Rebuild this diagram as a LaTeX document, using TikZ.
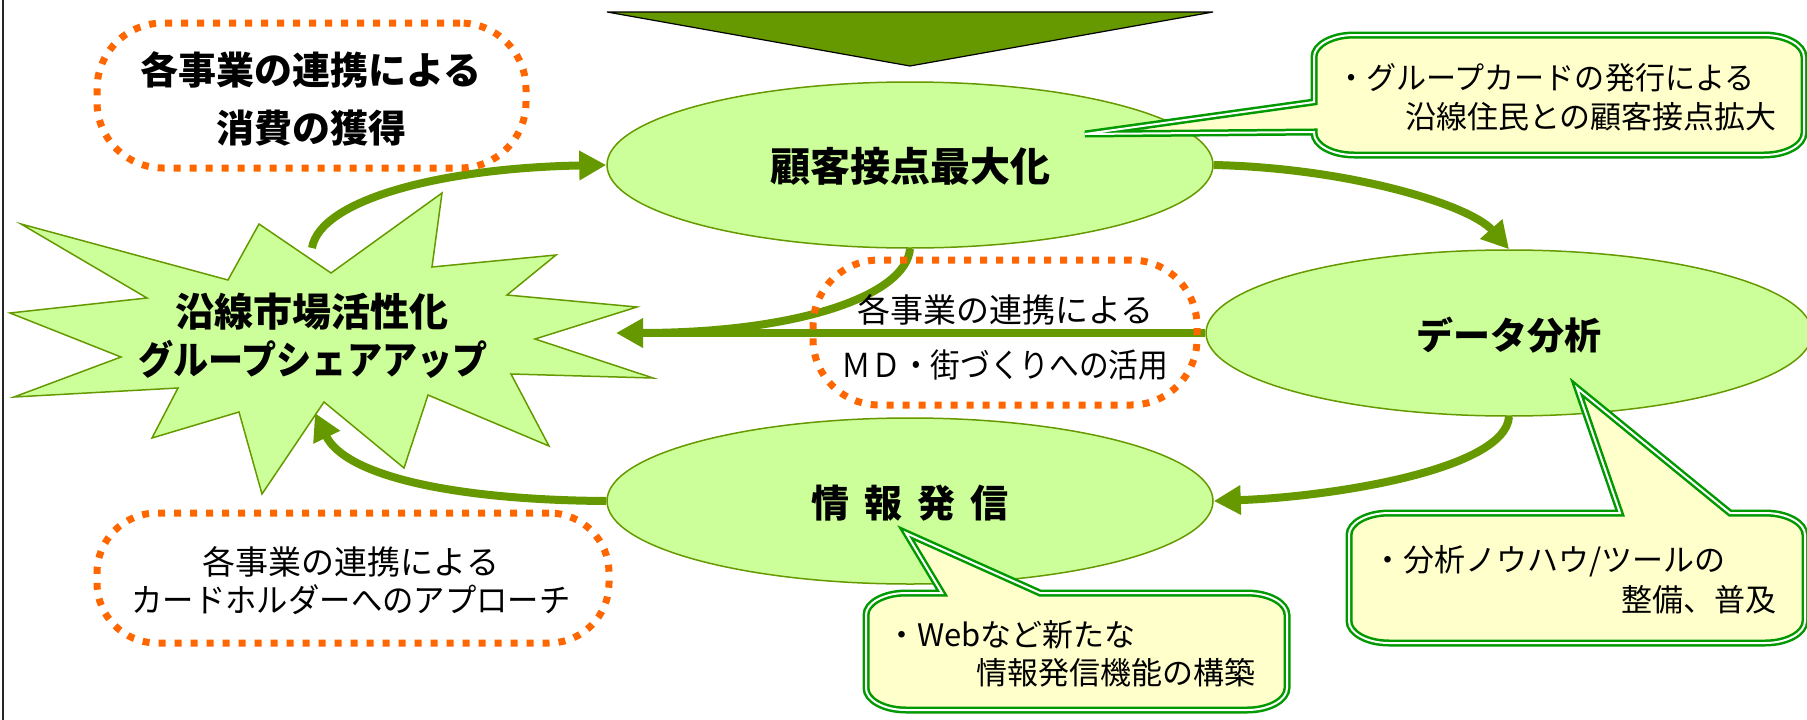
\documentclass[tikz,border=0pt]{standalone}
\usepackage{fontspec}
\newfontfamily\jp{Noto Sans CJK JP}
\usetikzlibrary{arrows.meta,shapes.geometric}
\definecolor{leaf}{HTML}{CCFF99}
\definecolor{olivec}{HTML}{669900}
\definecolor{orng}{HTML}{FF6600}
\definecolor{cgreen}{HTML}{009900}
\definecolor{cream}{HTML}{FFFFCC}
\begin{document}
\begin{tikzpicture}[x=1pt,y=-1pt,
  ell/.style={ellipse, draw=olivec, line width=1.5pt, fill=leaf, minimum width=606pt, minimum height=166pt, inner sep=0pt, text height=36pt, text depth=3pt},
  flow/.style={draw=olivec, line width=8pt, -{Triangle[length=27pt,width=28pt]}},
  flowplain/.style={draw=olivec, line width=8pt},
  dotbox/.style={draw=orng, line width=7pt, dash pattern=on 7pt off 9pt, rounded corners=66pt, inner sep=0pt},
  bigtxt/.style={font=\jp\bfseries\fontsize{38}{38}\selectfont, inner sep=0pt, text height=32pt, text depth=3pt},
  regtxt/.style={font=\jp\fontsize{33}{33}\selectfont, inner sep=0pt, text height=27pt, text depth=2.3pt},
  smalltxt/.style={font=\jp\fontsize{31}{31}\selectfont, inner sep=0pt, text height=25.7pt, text depth=2.2pt},
  callout/.style={draw=cgreen, line width=2.5pt, double=white, double distance=2pt, fill=cream}
]
\useasboundingbox (0,0) rectangle (1807,720);
\clip (0,0) rectangle (1807,720);

% left frame line
\draw[line width=2pt, black!85] (3,0) -- (3,720);

% top triangle
\draw[fill=olivec, draw=black, line width=1.2pt] (607,12) -- (1213,12) -- (910,66) -- cycle;

% star
\draw[fill=leaf, draw=olivec, line width=1.5pt]
  (21,224) -- (228,280) -- (259,224) -- (331,273) -- (442,193) -- (432,267)
  -- (556,255) -- (507,295) -- (637,307) -- (535,339) -- (653,378) -- (511,374)
  -- (549,446) -- (428,395) -- (404,468) -- (324,402) -- (262,494) -- (239,412)
  -- (152,438) -- (178,388) -- (14,397) -- (121,357) -- (10,313) -- (147,298) -- cycle;
\coordinate (sOut) at (312,248);
\coordinate (sIn1) at (616,333);
\coordinate (sIn2) at (315,413);
\coordinate (j1) at (640,333);
\node[bigtxt, font=\jp\bfseries\fontsize{39}{39}\selectfont] (st1) at (312,312) {沿線市場活性化};
\node[bigtxt, font=\jp\bfseries\fontsize{39}{39}\selectfont] (st2) at (313,360) {\scalebox{0.9}[1]{グループシェアアップ}};

% ellipses
\node[ell, font=\jp\bfseries\fontsize{40}{40}\selectfont] (e1) at (910,165) {顧客接点最大化};
\node[ell, font=\jp\bfseries\fontsize{37}{37}\selectfont] (e2) at (1509,333) {データ分析};
\node[ell, font=\jp\bfseries\fontsize{38}{38}\selectfont] (e3) at (910,501) {情\hspace{15pt}報\hspace{15pt}発\hspace{15pt}信};

% arrows
\draw[flow] (sOut) .. controls (320,200) and (440,168) .. (e1.west);
\draw[flow] (e1.east) .. controls (1350,168) and (1470,205) .. (e2.north);
\draw[flowplain] (e1.south) .. controls (906,295) and (800,333) .. (j1);
\draw[flow] (e2.west) -- (sIn1);
\draw[flow] (e2.south) .. controls (1505,470) and (1330,497) .. (e3.east);
\draw[flow] (e3.west) .. controls (450,500) and (345,475) .. (sIn2);

% dotted boxes
\node[dotbox, minimum width=429pt, minimum height=145pt] (b1) at (311.5,95.5) {};
\node[dotbox, minimum width=384pt, minimum height=145pt] (b2) at (1005,332.5) {};
\node[dotbox, rounded corners=60pt, minimum width=512pt, minimum height=130pt] (b3) at (353,578) {};

\node[bigtxt] (b1a) at (311,70) {各事業の連携による};
\node[bigtxt] (b1b) at (311,128) {消費の獲得};
\node[regtxt] (b2a) at (1005,310) {各事業の連携による};
\node[regtxt] (b2b) at (1005,365) {\scalebox{0.9}[1]{ＭＤ・街づくりへの活用}};
\node[regtxt] (b3a) at (351,562) {各事業の連携による};
\node[regtxt] (b3b) at (351,600) {\scalebox{0.95}[1]{カードホルダーへのアプローチ}};

% callouts
\draw[callout] (1354,35) -- (1764,35) arc[start angle=270, end angle=360, x radius=40, y radius=22]
  -- (1804,133) arc[start angle=0, end angle=90, x radius=40, y radius=22]
  -- (1354,155) arc[start angle=90, end angle=180, x radius=40, y radius=22]
  -- (1314,132) -- (1085,134) -- (1314,102)
  -- (1314,57) arc[start angle=180, end angle=270, x radius=40, y radius=22] -- cycle;
\node[smalltxt, anchor=west] (c1a) at (1336,78) {\scalebox{0.97}[1]{・グループカードの発行による}};
\node[smalltxt, anchor=east] (c1b) at (1777,117) {沿線住民との顧客接点拡大};

\draw[callout] (906,593) -- (942,593) -- (906,533) -- (1040,593)
  -- (1247,593) arc[start angle=270, end angle=360, x radius=40, y radius=22]
  -- (1287,688) arc[start angle=0, end angle=90, x radius=40, y radius=22]
  -- (906,710) arc[start angle=90, end angle=180, x radius=40, y radius=22]
  -- (866,615) arc[start angle=180, end angle=270, x radius=40, y radius=22] -- cycle;
\node[smalltxt, anchor=west] (c2a) at (886,635) {・Webなど新たな};
\node[smalltxt, anchor=east] (c2b) at (1256,673) {情報発信機能の構築};

\draw[callout] (1389,513) -- (1620,513) -- (1577,388) -- (1730,513)
  -- (1765,513) arc[start angle=270, end angle=360, x radius=40, y radius=22]
  -- (1805,621) arc[start angle=0, end angle=90, x radius=40, y radius=22]
  -- (1389,643) arc[start angle=90, end angle=180, x radius=40, y radius=22]
  -- (1349,535) arc[start angle=180, end angle=270, x radius=40, y radius=22] -- cycle;
\node[smalltxt, anchor=west] (c3a) at (1372,560) {・分析ノウハウ/ツールの};
\node[smalltxt, anchor=east] (c3b) at (1777,600) {整備、普及};
\end{tikzpicture}
\end{document}
